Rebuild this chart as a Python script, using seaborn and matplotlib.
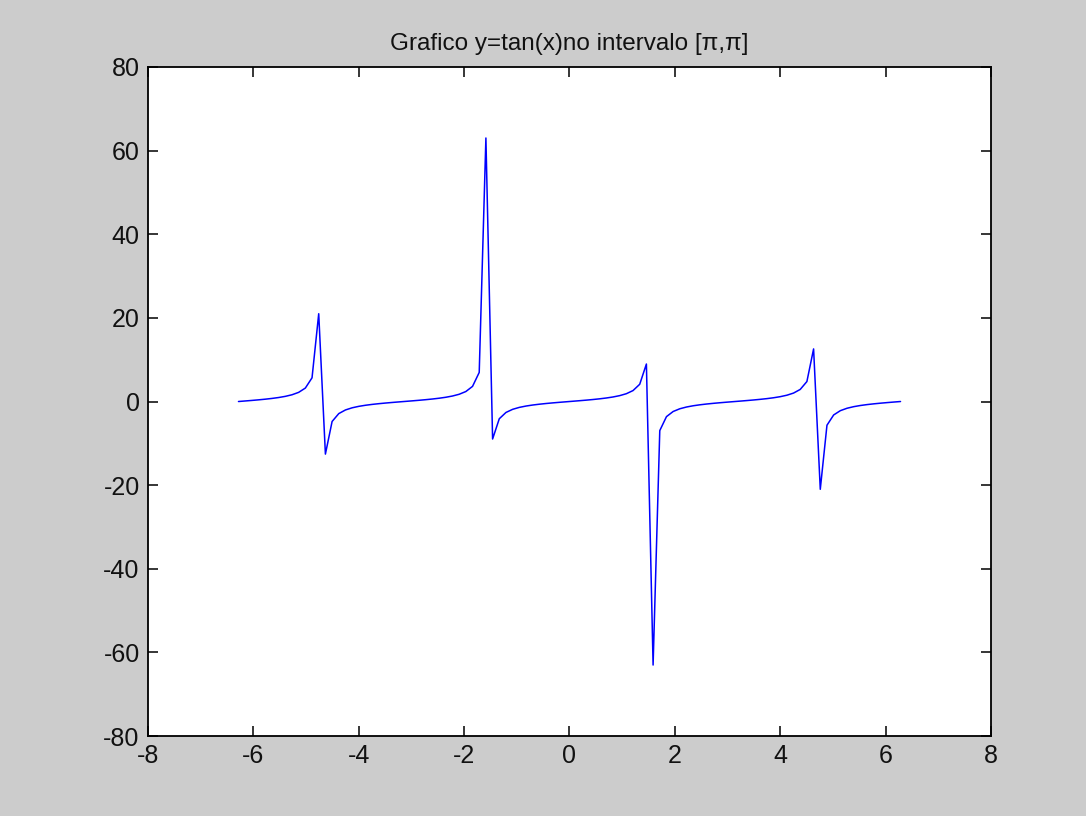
import numpy as np
import pandas as pd
import matplotlib
matplotlib.use("Agg")
import matplotlib.pyplot as plt
import seaborn as sns

x_vals = [-6.2832, -6.1563, -6.0293, -5.9024, -5.7755, -5.6485, -5.5216, -5.3947, -5.2677, -5.1408,
          -5.0139, -4.8869, -4.7600, -4.6331, -4.5061, -4.3792, -4.2523, -4.1253, -3.9984, -3.8715,
          -3.7445, -3.6176, -3.4907, -3.3637, -3.2368, -3.1099, -2.9829, -2.8560, -2.7291, -2.6021,
          -2.4752, -2.3483, -2.2213, -2.0944, -1.9675, -1.8405, -1.7136, -1.5867, -1.4597, -1.3328,
          -1.2059, -1.0789, -0.9520, -0.8251, -0.6981, -0.5712, -0.4443, -0.3173, -0.1904, -0.0635,
          0.0635, 0.1904, 0.3173, 0.4443, 0.5712, 0.6981, 0.8251, 0.9520, 1.0789, 1.2059,
          1.3328, 1.4597, 1.5867, 1.7136, 1.8405, 1.9675, 2.0944, 2.2213, 2.3483, 2.4752,
          2.6021, 2.7291, 2.8560, 2.9829, 3.1099, 3.2368, 3.3637, 3.4907, 3.6176, 3.7445,
          3.8715, 3.9984, 4.1253, 4.2523, 4.3792, 4.5061, 4.6331, 4.7600, 4.8869, 5.0139,
          5.1408, 5.2677, 5.3947, 5.5216, 5.6485, 5.7755, 5.9024, 6.0293, 6.1563, 6.2832]

y_vals = [0.000, 0.128, 0.259, 0.400, 0.556, 0.736, 0.953, 1.231, 1.612, 2.190,
          3.216, 5.671, 20.993, -12.579, -4.779, -2.889, -2.018, -1.503, -1.154, -0.895,
          -0.688, -0.516, -0.364, -0.226, -0.095, 0.032, 0.160, 0.294, 0.438, 0.599,
          0.786, 1.016, 1.314, 1.732, 2.387, 3.617, 6.955, 63.020, -8.967, -4.122,
          -2.617, -1.866, -1.404, -1.083, -0.839, -0.643, -0.476, -0.328, -0.193, -0.064,
          0.064, 0.193, 0.328, 0.476, 0.643, 0.839, 1.083, 1.404, 1.866, 2.617,
          4.122, 8.967, -63.020, -6.955, -3.617, -2.387, -1.732, -1.314, -1.016, -0.786,
          -0.599, -0.438, -0.294, -0.160, -0.032, 0.095, 0.226, 0.364, 0.516, 0.688,
          0.895, 1.154, 1.503, 2.018, 2.889, 4.779, 12.579, -20.993, -5.671, -3.216,
          -2.190, -1.612, -1.231, -0.953, -0.736, -0.556, -0.400, -0.259, -0.128, -0.000]

x_ticks = [-8, -6, -4, -2, 0, 2, 4, 6, 8]
y_ticks = [-80, -60, -40, -20, 0, 20, 40, 60, 80]
title = "Grafico y=tan(x)no intervalo [\u03c0,\u03c0]"

sns.set_style("white")
plt.rcParams['font.family'] = ['Liberation Sans', 'DejaVu Sans']

df = pd.DataFrame({"x": x_vals, "y": y_vals})

fig = plt.figure(figsize=(10.86, 8.16), dpi=100, facecolor="#cccccc")
ax = fig.add_axes([0.1363, 0.098, 0.7762, 0.8199])
ax.set_facecolor("white")

sns.lineplot(data=df, x="x", y="y", ax=ax, color="#0000ff", linewidth=1.1,
             sort=False, estimator=None)

ax.set_xlim(-8, 8)
ax.set_ylim(-80, 80)
ax.set_xticks(x_ticks)
ax.set_yticks(y_ticks)
ax.set_xticklabels([str(t) for t in x_ticks])
ax.set_yticklabels([str(t) for t in y_ticks])
ax.set_xlabel("")
ax.set_ylabel("")

for s in ax.spines.values():
    s.set_visible(True)
    s.set_color("black")
    s.set_linewidth(1.3)

ax.tick_params(axis="both", which="major", direction="in", length=7.5, width=1.1,
               color="black", labelsize=18, labelcolor="#111111",
               top=True, right=True, bottom=True, left=True, pad=6)

ax.set_title(title, fontsize=17.5, color="#111111", pad=12)

fig.savefig("out.png", dpi=100, facecolor=fig.get_facecolor())
